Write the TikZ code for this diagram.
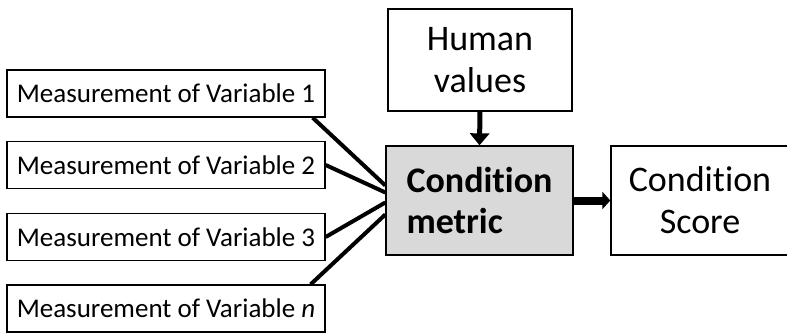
\documentclass[tikz,border=0pt]{standalone}
\usepackage{fontspec}
\setmainfont{Carlito}[Ligatures={NoCommon}]
\usepackage{tikz}
\usetikzlibrary{calc, arrows.meta}

\begin{document}
\begin{tikzpicture}[x=1pt,y=-1pt,inner sep=0pt,>={Triangle[length=12pt,width=19pt]},
  box/.style={draw,line width=1.3pt,minimum height=47pt},
  meas/.style={box,minimum width=318pt,font=\fontsize{27}{30}\selectfont},
  big/.style={box,align=center,font=\fontsize{36}{42}\selectfont},
  feed/.style={line width=4pt}]
\useasboundingbox (0,0) rectangle (787,334);
\node [meas] (M1) at (166,93.5)  {Measurement of Variable 1};
\node [meas] (M2) at (166,165)   {Measurement of Variable 2};
\node [meas] (M3) at (166,237)   {Measurement of Variable 3};
\node [meas] (Mn) at (166,308.5) {Measurement of Variable \textit{n}};
\node [big,minimum width=184pt,minimum height=102pt] (HV) at (480,60) {Human\\values};
\node [big,minimum width=187pt,minimum height=109pt,fill=black!15,align=left,
       font=\fontsize{36}{41}\selectfont\bfseries] (CM) at (479.5,200.5) {Condition\\metric};
\node [big,minimum width=178pt,minimum height=109pt] (CS) at (700,200.5) {Condition\\Score};
\draw [feed] ($ (M1.south east) + (-13,0) $) -- ($ (CM.west) + (0,-15) $);
\draw [feed] (M2.east) -- ($ (CM.west) + (0,-8) $);
\draw [feed] (M3.east) -- ($ (CM.west) + (0,2) $);
\draw [feed] ($ (Mn.north east) + (-15,0) $) -- ($ (CM.west) + (0,14) $);
\draw [feed,line width=5pt,->] (HV.south) -- (CM.north);
\draw [feed,line width=8pt,-{Triangle[length=8pt,width=17pt]}] (CM.east) -- (CS.west);
\end{tikzpicture}
\end{document}
